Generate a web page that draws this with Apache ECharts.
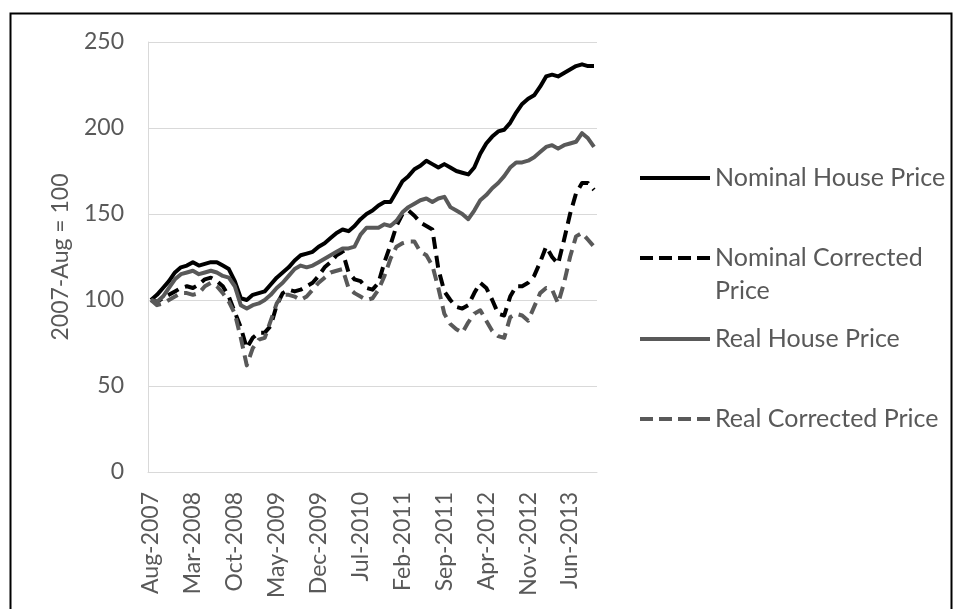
<!DOCTYPE html>
<html><head><meta charset="utf-8">
<script src="https://cdn.jsdelivr.net/npm/echarts@6/dist/echarts.min.js"></script>
<style>html,body{margin:0;padding:0;background:#fff}#c{width:958px;height:609px}</style>
</head><body><div id="c"></div>
<script>
const categories = [
 'Aug-2007','Sep-2007','Oct-2007','Nov-2007','Dec-2007',
 'Jan-2008','Feb-2008','Mar-2008','Apr-2008','May-2008','Jun-2008','Jul-2008','Aug-2008','Sep-2008','Oct-2008','Nov-2008','Dec-2008',
 'Jan-2009','Feb-2009','Mar-2009','Apr-2009','May-2009','Jun-2009','Jul-2009','Aug-2009','Sep-2009','Oct-2009','Nov-2009','Dec-2009',
 'Jan-2010','Feb-2010','Mar-2010','Apr-2010','May-2010','Jun-2010','Jul-2010','Aug-2010','Sep-2010','Oct-2010','Nov-2010','Dec-2010',
 'Jan-2011','Feb-2011','Mar-2011','Apr-2011','May-2011','Jun-2011','Jul-2011','Aug-2011','Sep-2011','Oct-2011','Nov-2011','Dec-2011',
 'Jan-2012','Feb-2012','Mar-2012','Apr-2012','May-2012','Jun-2012','Jul-2012','Aug-2012','Sep-2012','Oct-2012','Nov-2012','Dec-2012',
 'Jan-2013','Feb-2013','Mar-2013','Apr-2013','May-2013','Jun-2013','Jul-2013','Aug-2013','Sep-2013','Oct-2013'
];
const nominalHousePrice = [
 100,103,107,111,116,119,120,122,120,121,
 122,122,120,118,111,101,100,103,104,105,
 109,113,116,119,123,126,127,128,131,133,
 136,139,141,140,143,147,150,152,155,157,
 157,163,169,172,176,178,181,179,177,179,
 177,175,174,173,177,185,191,195,198,199,
 203,209,214,217,219,224,230,231,230,232,
 234,236,237,236,236
];
const nominalCorrectedPrice = [
 100,99,101,103,105,107,108,107,109,112,
 113,111,108,102,93,84,72,78,81,81,
 85,97,104,106,105,106,108,110,114,119,
 122,126,128,116,112,111,107,106,110,122,
 132,143,150,152,149,145,143,141,118,105,
 100,96,95,97,104,110,107,100,92,91,
 102,108,108,110,114,122,131,125,121,135,
 150,162,168,168,164
];
const realHousePrice = [
 100,99,102,107,112,115,116,117,115,116,
 117,116,114,113,108,97,95,97,98,100,
 103,107,110,114,118,120,119,120,122,124,
 126,128,130,130,131,138,142,142,142,144,
 143,146,151,154,156,158,159,157,159,160,
 154,152,150,147,152,158,161,165,168,172,
 177,180,180,181,183,186,189,190,188,190,
 191,192,197,194,189
];
const realCorrectedPrice = [
 100,97,98,100,102,104,104,103,104,108,
 110,108,104,99,92,78,62,72,77,78,
 88,98,103,103,102,100,102,106,110,113,
 116,117,118,107,104,102,100,101,106,114,
 124,131,133,134,134,128,126,120,107,92,
 86,83,81,87,92,94,88,82,79,78,
 90,92,91,88,96,104,107,106,98,110,
 125,137,139,135,131
];
const yTicks = {min: 0, max: 250, interval: 50};

const FONT = 'Lato';
const TXT = '#595959';
const GRIDC = '#d9d9d9';
const DASH = [12, 7];
const LEGEND_DASH = [13, 6];

const chart = echarts.init(document.getElementById('c'), null, {renderer: 'canvas'});

function mkLegend(name, top, dashed, color) {
  return {
    data: [name], left: 638, top: top, orient: 'vertical', padding: 0,
    itemWidth: 70, itemHeight: 14, itemGap: 0, selectedMode: false,
    itemStyle: {opacity: 0},
    lineStyle: {width: 4, color: color, type: dashed ? LEGEND_DASH : 'solid'},
    textStyle: {color: TXT, fontFamily: FONT, fontSize: 25, lineHeight: 33}
  };
}

const ncLegend = mkLegend('Nominal Corrected Price', 258 - 49.5, true, '#000');
ncLegend.formatter = function () { return '\nNominal Corrected\nPrice'; };

const option = {
  animation: false,
  backgroundColor: '#fff',
  graphic: [{
    type: 'rect', left: 8, top: 11, silent: true,
    shape: {x: 0, y: 0, width: 941, height: 660},
    style: {fill: 'none', stroke: '#000', lineWidth: 2}
  }],
  grid: {left: 148, right: 361, top: 42, bottom: 137, containLabel: false},
  xAxis: {
    type: 'category', data: categories, boundaryGap: true,
    axisLine: {show: true, lineStyle: {color: GRIDC, width: 1}},
    axisTick: {show: false},
    axisLabel: {interval: 6, rotate: 90, margin: 20, color: TXT, fontFamily: FONT, fontSize: 23}
  },
  yAxis: {
    type: 'value', min: yTicks.min, max: yTicks.max, interval: yTicks.interval,
    name: '2007-Aug = 100', nameLocation: 'middle', nameGap: 76, nameRotate: 90,
    nameTextStyle: {color: TXT, fontFamily: FONT, fontSize: 23},
    axisLine: {show: true, lineStyle: {color: GRIDC, width: 1}},
    axisTick: {show: false},
    splitLine: {show: true, lineStyle: {color: GRIDC, width: 1}},
    axisLabel: {margin: 24, color: TXT, fontFamily: FONT, fontSize: 23}
  },
  legend: [
    mkLegend('Nominal House Price', 178 - 16.5, false, '#000'),
    ncLegend,
    mkLegend('Real House Price', 339 - 16.5, false, '#595959'),
    mkLegend('Real Corrected Price', 419 - 16.5, true, '#595959')
  ],
  series: [
    {name: 'Nominal House Price', type: 'line', data: nominalHousePrice, symbol: 'none',
     lineStyle: {color: '#000', width: 4, join: 'round'}, itemStyle: {color: '#000'}},
    {name: 'Nominal Corrected Price', type: 'line', data: nominalCorrectedPrice, symbol: 'none',
     lineStyle: {color: '#000', width: 4, type: DASH, join: 'round'}, itemStyle: {color: '#000'}},
    {name: 'Real House Price', type: 'line', data: realHousePrice, symbol: 'none',
     lineStyle: {color: '#595959', width: 4, join: 'round'}, itemStyle: {color: '#595959'}},
    {name: 'Real Corrected Price', type: 'line', data: realCorrectedPrice, symbol: 'none',
     lineStyle: {color: '#595959', width: 4, type: DASH, join: 'round'}, itemStyle: {color: '#595959'}}
  ]
};
chart.setOption(option);
</script>
</body></html>
